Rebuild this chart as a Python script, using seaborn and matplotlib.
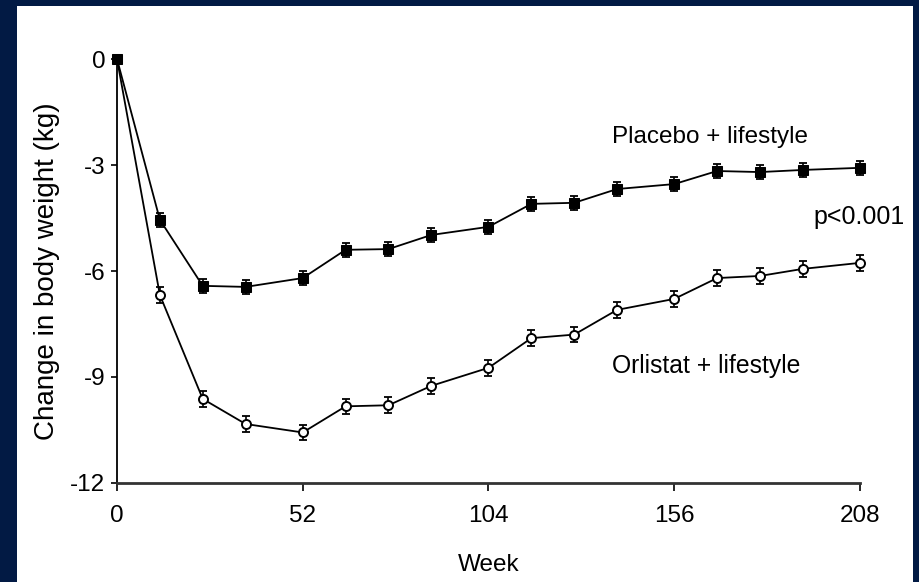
import matplotlib
matplotlib.use("Agg")
import matplotlib.pyplot as plt
import seaborn as sns
import numpy as np
import pandas as pd
from matplotlib import font_manager

weeks = [0, 12, 24, 36, 52, 64, 76, 88, 104, 116, 128, 140, 156, 168, 180, 192, 208]
placebo = [0, -4.55, -6.42, -6.45, -6.2, -5.4, -5.38, -4.98, -4.75, -4.1, -4.07,
           -3.68, -3.54, -3.17, -3.2, -3.14, -3.08]
orlistat = [0, -6.68, -9.62, -10.33, -10.57, -9.83, -9.8, -9.25, -8.74, -7.9, -7.8,
            -7.1, -6.79, -6.2, -6.14, -5.94, -5.77]
placebo_err = [0] + [0.2] * 16
orlistat_err = [0] + [0.22] * 16
x_ticks = [0, 52, 104, 156, 208]
y_ticks = [0, -3, -6, -9, -12]

sns.set_theme(style="ticks")
names = {f.name for f in font_manager.fontManager.ttflist}
fam = [f for f in ["Liberation Sans Narrow", "Liberation Sans", "DejaVu Sans"] if f in names]
plt.rcParams["font.family"] = fam

fig = plt.figure(figsize=(9.2, 5.82), dpi=100, facecolor="#021a44")

# white panel
bg = fig.add_axes([17 / 920, 0, (913 - 17) / 920, (582 - 6) / 582])
bg.set_facecolor("white")
bg.set_xticks([])
bg.set_yticks([])
for s in bg.spines.values():
    s.set_visible(False)
bg.set_zorder(0)

ax = fig.add_axes([117 / 920, (582 - 483) / 582, (860 - 117) / 920, (483 - 59) / 582])
ax.set_facecolor("none")
ax.set_zorder(2)

df = pd.DataFrame({"week": weeks * 2,
                   "change": placebo + orlistat,
                   "group": ["Placebo + lifestyle"] * len(weeks) + ["Orlistat + lifestyle"] * len(weeks)})

ax.errorbar(weeks, placebo, yerr=placebo_err, fmt="none", ecolor="black",
            elinewidth=1.2, capsize=3, capthick=1.3, clip_on=False, zorder=2)
ax.errorbar(weeks, orlistat, yerr=orlistat_err, fmt="none", ecolor="black",
            elinewidth=1.2, capsize=3, capthick=1.3, clip_on=False, zorder=2)

sns.lineplot(data=df[df.group == "Orlistat + lifestyle"], x="week", y="change",
             color="black", marker="o", markersize=6.5, markerfacecolor="white",
             markeredgecolor="black", markeredgewidth=1.4, linewidth=1.3, ax=ax,
             clip_on=False, zorder=3)
sns.lineplot(data=df[df.group == "Placebo + lifestyle"], x="week", y="change",
             color="black", marker="s", markersize=7, markerfacecolor="black",
             markeredgecolor="black", linewidth=1.3, ax=ax, clip_on=False, zorder=4)

ax.set_xlim(0, 208)
ax.set_ylim(-12, 0)
ax.set_xticks(x_ticks)
ax.set_yticks(y_ticks)
ax.set_xticklabels([str(v) for v in x_ticks])
ax.set_yticklabels([str(v) for v in y_ticks])
for s in ["top", "right"]:
    ax.spines[s].set_visible(False)
ax.spines["left"].set_linewidth(1.3)
ax.spines["bottom"].set_linewidth(2.0)
ax.spines["left"].set_color("black")
ax.spines["bottom"].set_color("#333333")
ax.tick_params(axis="x", direction="out", length=6, width=1.2, colors="black",
               labelsize=17.5, pad=10)
ax.tick_params(axis="y", direction="out", length=4.5, width=1.2, colors="black",
               labelsize=17.5, pad=4)
ax.set_xlabel("Week", fontsize=17.5, color="black")
ax.set_ylabel("Change in body weight (kg)", fontsize=20, color="black")
ax.xaxis.set_label_coords(0.5, (483 - 554) / 424)
ax.yaxis.set_label_coords((60 - 117) / 743, 0.5)

fig.text(905 / 920, 1 - 217 / 582, "p<0.001", fontsize=18, ha="right", va="center", color="black", zorder=5)
fig.text(612 / 920, 1 - 137 / 582, "Placebo + lifestyle", fontsize=17.5, ha="left", va="center", color="black", zorder=5)
fig.text(612 / 920, 1 - 366 / 582, "Orlistat + lifestyle", fontsize=17.8, ha="left", va="center", color="black", zorder=5)

fig.savefig("out.png", dpi=100, facecolor=fig.get_facecolor())
